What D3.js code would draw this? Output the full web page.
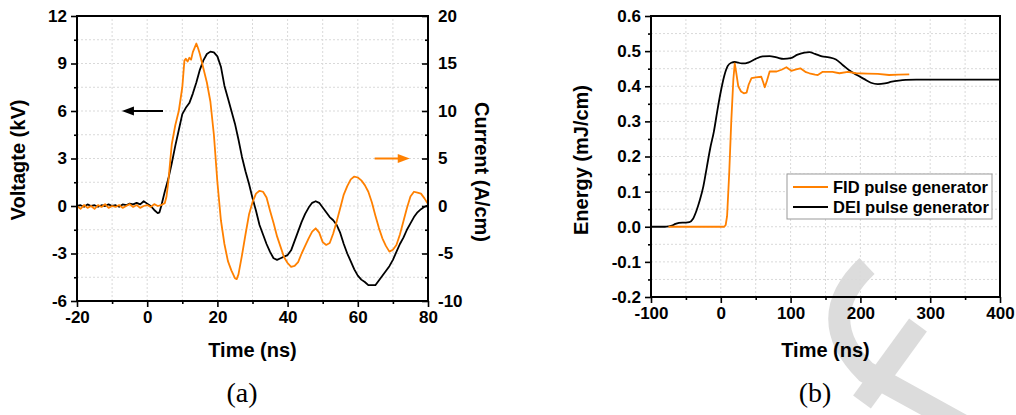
<!DOCTYPE html>
<html>
<head>
<meta charset="utf-8">
<script src="https://cdn.jsdelivr.net/npm/d3@7"></script>
<style>
  html, body { margin: 0; padding: 0; background: #fff; }
  svg text { font-family: "Liberation Sans", Arial, sans-serif; }
</style>
</head>
<body>
<svg id="chart" width="1016" height="415"></svg>
<script>
// ---------- Panel (a): voltage (black, left axis) ----------
const voltTime = [-20,-19,-18,-17,-16,-15,-14,-13,-12,-11,-10,-9,-8,-7,-6,-5,-4,-3,-2,-1,0,1,2,3,3.5,4,5,6,7,8,9,10,11,12,13,14,15,16,17,18,19,20,21,22,23,24,25,26,27,28,29,30,31,32,33,34,35,36,37,38,39,40,41,42,43,44,45,46,47,48,49,50,51,52,53,54,55,56,57,58,59,60,61,62,63,64,65,66,67,68,69,70,71,72,73,74,75,76,77,78,79,80];
const voltValues = [0.0,0.05,-0.05,0.1,0.0,0.05,-0.05,0.05,0.0,0.1,0.0,0.05,-0.05,0.1,0.05,0.15,0.1,0.2,0.1,0.3,0.15,0.0,-0.25,-0.45,-0.4,0.0,0.9,1.7,2.7,3.8,4.8,5.8,6.2,6.5,7.1,7.8,8.6,9.2,9.6,9.75,9.7,9.45,8.8,7.6,6.8,6.0,5.2,4.2,3.1,2.2,1.4,0.5,-0.3,-1.2,-1.8,-2.4,-2.9,-3.3,-3.4,-3.3,-3.2,-3.1,-2.8,-2.2,-1.6,-1.0,-0.5,-0.1,0.2,0.3,0.2,-0.1,-0.4,-0.7,-0.9,-1.2,-1.7,-2.4,-3.0,-3.5,-4.0,-4.4,-4.65,-4.8,-5.0,-5.0,-5.0,-4.7,-4.4,-4.1,-3.8,-3.4,-2.9,-2.4,-2.0,-1.5,-1.1,-0.7,-0.4,-0.2,-0.05,0.05];

// ---------- Panel (a): current (orange, right axis) ----------
const currTime = [-20,-19,-18,-17,-16,-15,-14,-13,-12,-11,-10,-9,-8,-7,-6,-5,-4,-3,-2,-1,0,1,2,3,4,5,5.5,6,7,8,9,10,10.6,11,11.5,12,12.5,13,14,14.5,15,16,17,18,19,20,21,22,23,24,25,25.5,26,27,28,29,30,31,32,33,34,35,36,37,38,39,40,41,42,43,44,45,46,47,48,49,50,51,52,53,54,55,56,57,58,59,60,61,62,63,64,65,66,67,68,69,70,71,72,73,74,75,76,77,78,79,80];
const currValues = [0.0,-0.3,0.1,-0.2,0.0,-0.3,0.1,-0.1,0.2,-0.2,0.0,-0.1,0.1,-0.2,0.0,0.2,-0.1,0.1,-0.2,0.0,0.1,-0.1,0.2,0.0,0.1,0.3,1.0,2.5,6.5,8.5,10.0,12.5,15.3,15.5,15.2,15.6,15.4,16.2,17.1,16.6,16.0,14.5,13.0,11.0,7.5,2.5,-1.5,-4.0,-5.8,-6.8,-7.6,-7.7,-7.2,-5.2,-3.0,-0.9,0.4,1.3,1.6,1.5,0.9,-0.5,-1.8,-3.2,-4.3,-5.4,-6.0,-6.4,-6.3,-5.9,-5.0,-4.2,-3.4,-2.7,-2.35,-2.8,-3.8,-4.1,-3.9,-2.9,-1.6,-0.2,1.2,2.1,2.8,3.1,3.0,2.7,2.2,1.5,0.4,-1.0,-2.3,-3.4,-4.2,-4.8,-4.6,-4.1,-3.0,-1.6,-0.2,1.0,1.5,1.4,1.3,0.8,0.2];

// ---------- Panel (b): energy ----------
const deiTime = [-100,-90,-80,-75,-70,-65,-60,-55,-50,-45,-40,-35,-30,-25,-20,-15,-10,-5,0,5,10,15,20,25,30,35,40,50,60,70,80,90,100,110,120,127,135,145,155,165,175,185,195,205,215,225,235,245,255,265,280,300,350,400];
const deiEnergy = [0,0,0,0.001,0.003,0.008,0.011,0.012,0.012,0.013,0.022,0.045,0.076,0.115,0.17,0.225,0.27,0.33,0.385,0.43,0.458,0.467,0.469,0.467,0.465,0.465,0.468,0.478,0.485,0.486,0.482,0.478,0.48,0.49,0.496,0.497,0.492,0.485,0.482,0.476,0.46,0.444,0.432,0.421,0.41,0.406,0.408,0.413,0.416,0.418,0.419,0.419,0.419,0.419];
const fidTime = [-75,-40,0,5,7,9,12,15,18,20,22,25,29,33,37,40,44,50,58,61,63,66,70,80,87,94,101,108,114,122,127,135,139,146,160,170,182,194,210,225,241,255,270];
const fidEnergy = [0,0,0,0,0.005,0.03,0.15,0.3,0.42,0.465,0.44,0.4,0.385,0.38,0.382,0.405,0.423,0.425,0.427,0.41,0.397,0.415,0.442,0.442,0.447,0.454,0.444,0.448,0.451,0.44,0.437,0.433,0.432,0.441,0.441,0.437,0.441,0.437,0.436,0.435,0.432,0.433,0.434];

// ---------- Axis settings ----------
const aXMajor = [-20,0,20,40,60,80];
const aXMinor = [-10,10,30,50,70];
const aYLeftMajor = [-6,-3,0,3,6,9,12];
const aYLeftMinor = [-4.5,-1.5,1.5,4.5,7.5,10.5];
const aYRightMajor = [-10,-5,0,5,10,15,20];
const aYRightMinor = [-7.5,-2.5,2.5,7.5,12.5,17.5];
const bXMajor = [-100,0,100,200,300,400];
const bXMinor = [-50,50,150,250,350];
const bYMajor = [-0.2,-0.1,0.0,0.1,0.2,0.3,0.4,0.5,0.6];
const bYMinor = [-0.15,-0.05,0.05,0.15,0.25,0.35,0.45,0.55];
const legendLabels = ["FID pulse generator","DEI pulse generator"];

const ORANGE = "#ff8000";
const svg = d3.select("#chart");
svg.append("rect").attr("width",1016).attr("height",415).attr("fill","#fff");

// scales
const xA = d3.scaleLinear().domain([-20,80]).range([77,428]);
const yA = d3.scaleLinear().domain([-6,12]).range([301,16]);
const yA2 = d3.scaleLinear().domain([-10,20]).range([301,16]);
const xB = d3.scaleLinear().domain([-100,400]).range([651,1000]);
const yB = d3.scaleLinear().domain([-0.2,0.6]).range([297,16]);

// watermark (drawn behind)
const wm = svg.append("g").attr("fill","none").attr("stroke","#dcdcdc").attr("stroke-width",22);
wm.append("path").attr("d","M867,266 Q812,318 866,372 L975,432");
wm.append("path").attr("d","M918,325 L862,402");

function grid(x, y, xs, ys) {
  const g = svg.append("g").attr("stroke","#d9d9d9").attr("stroke-width",1).attr("stroke-dasharray","2,2");
  xs.forEach(v => g.append("line").attr("x1",x(v)).attr("x2",x(v)).attr("y1",y.range()[0]).attr("y2",y.range()[1]));
  ys.forEach(v => g.append("line").attr("y1",y(v)).attr("y2",y(v)).attr("x1",x.range()[0]).attr("x2",x.range()[1]));
}
grid(xA, yA, aXMajor.concat(aXMinor), aYLeftMajor.concat(aYLeftMinor));
grid(xB, yB, bXMajor.concat(bXMinor), bYMajor.concat(bYMinor));

// data lines
const lineA = d3.line().x(d => xA(d[0])).y(d => yA(d[1]));
const lineA2 = d3.line().x(d => xA(d[0])).y(d => yA2(d[1]));
svg.append("path").datum(d3.zip(voltTime, voltValues)).attr("d", lineA)
  .attr("fill","none").attr("stroke","#000").attr("stroke-width",1.8).attr("stroke-linejoin","round");
svg.append("path").datum(d3.zip(currTime, currValues)).attr("d", lineA2)
  .attr("fill","none").attr("stroke",ORANGE).attr("stroke-width",1.8).attr("stroke-linejoin","round");

const lineB = d3.line().x(d => xB(d[0])).y(d => yB(d[1])).curve(d3.curveMonotoneX);
const lineBlin = d3.line().x(d => xB(d[0])).y(d => yB(d[1]));
svg.append("path").datum(d3.zip(deiTime, deiEnergy)).attr("d", lineB)
  .attr("fill","none").attr("stroke","#000").attr("stroke-width",1.8);
svg.append("path").datum(d3.zip(fidTime, fidEnergy)).attr("d", lineBlin)
  .attr("fill","none").attr("stroke",ORANGE).attr("stroke-width",1.8).attr("stroke-linejoin","round");

// axes
function styleAxis(g) {
  g.select(".domain").remove();
  g.selectAll("line").attr("stroke","#000").attr("stroke-width",1.6);
  g.selectAll("text").attr("font-family","Liberation Sans, Arial, sans-serif")
    .attr("font-weight","bold").attr("font-size",17).attr("fill","#000");
}
function axisPair(axisFn, scale, major, minor, fmt, pos, size) {
  svg.append("g").attr("transform", pos)
    .call(axisFn(scale).tickValues(minor).tickFormat("").tickSize(size/2)).call(styleAxis);
  svg.append("g").attr("transform", pos)
    .call(axisFn(scale).tickValues(major).tickFormat(fmt).tickSize(size).tickPadding(size >= 0 ? 4 : 10)).call(styleAxis);
}
const intFmt = d => String(d);
const decFmt = d => d.toFixed(1);
axisPair(d3.axisBottom, xA, aXMajor, aXMinor, intFmt, "translate(0,301)", 6);
axisPair(d3.axisLeft, yA, aYLeftMajor, aYLeftMinor, intFmt, "translate(77,0)", 6);
axisPair(d3.axisRight, yA2, aYRightMajor, aYRightMinor, intFmt, "translate(428,0)", -6);
axisPair(d3.axisBottom, xB, bXMajor, bXMinor, intFmt, "translate(0,297)", 6);
axisPair(d3.axisLeft, yB, bYMajor, bYMinor, decFmt, "translate(651,0)", 6);

// frames
svg.append("rect").attr("x",77).attr("y",16).attr("width",351).attr("height",285)
  .attr("fill","none").attr("stroke","#000").attr("stroke-width",2);
svg.append("rect").attr("x",651).attr("y",16).attr("width",349).attr("height",281)
  .attr("fill","none").attr("stroke","#000").attr("stroke-width",2);

// axis titles
function title(txt, x, y, rot, size) {
  svg.append("text").text(txt).attr("text-anchor","middle")
    .attr("font-weight","bold").attr("font-size",size).attr("fill","#000")
    .attr("transform", `translate(${x},${y}) rotate(${rot})`);
}
title("Time (ns)", 252.5, 357, 0, 20);
title("Voltagte (kV)", 25, 160, -90, 20);
title("Current (A/cm)", 475, 172, 90, 20);
title("Time (ns)", 825.5, 357, 0, 20);
title("Energy (mJ/cm)", 588, 160, -90, 20);

// panel labels
svg.append("text").text("(a)").attr("x",242).attr("y",402).attr("text-anchor","middle")
  .attr("font-family","Liberation Serif, Times New Roman, serif").attr("font-size",28).attr("fill","#000")
  .style("font-family","'Liberation Serif', 'Times New Roman', serif");
svg.append("text").text("(b)").attr("x",815).attr("y",402).attr("text-anchor","middle")
  .attr("font-size",28).attr("fill","#000")
  .style("font-family","'Liberation Serif', 'Times New Roman', serif");

// arrows
function arrow(x1, x2, y, color) {
  const dir = Math.sign(x2 - x1);
  svg.append("line").attr("x1",x1).attr("x2",x2 - dir*10).attr("y1",y).attr("y2",y)
    .attr("stroke",color).attr("stroke-width",2);
  svg.append("path").attr("d",`M${x2},${y} L${x2 - dir*12},${y-4.5} L${x2 - dir*12},${y+4.5} Z`).attr("fill",color);
}
arrow(xA(4.5), xA(-7.2), yA(6), "#000");
arrow(xA(64.8), xA(74.8), yA2(5), ORANGE);

// legend
const lg = svg.append("g");
lg.append("rect").attr("x",787).attr("y",174).attr("width",205).attr("height",45)
  .attr("fill","#fff").attr("stroke","#999").attr("stroke-width",1);
[ORANGE, "#000"].forEach((c, i) => {
  const y = 187 + i*20;
  lg.append("line").attr("x1",793).attr("x2",828).attr("y1",y).attr("y2",y).attr("stroke",c).attr("stroke-width",1.8);
  lg.append("text").text(legendLabels[i]).attr("x",833).attr("y",y+6)
    .attr("font-weight","bold").attr("font-size",16.5).attr("fill","#000");
});
</script>
</body>
</html>
